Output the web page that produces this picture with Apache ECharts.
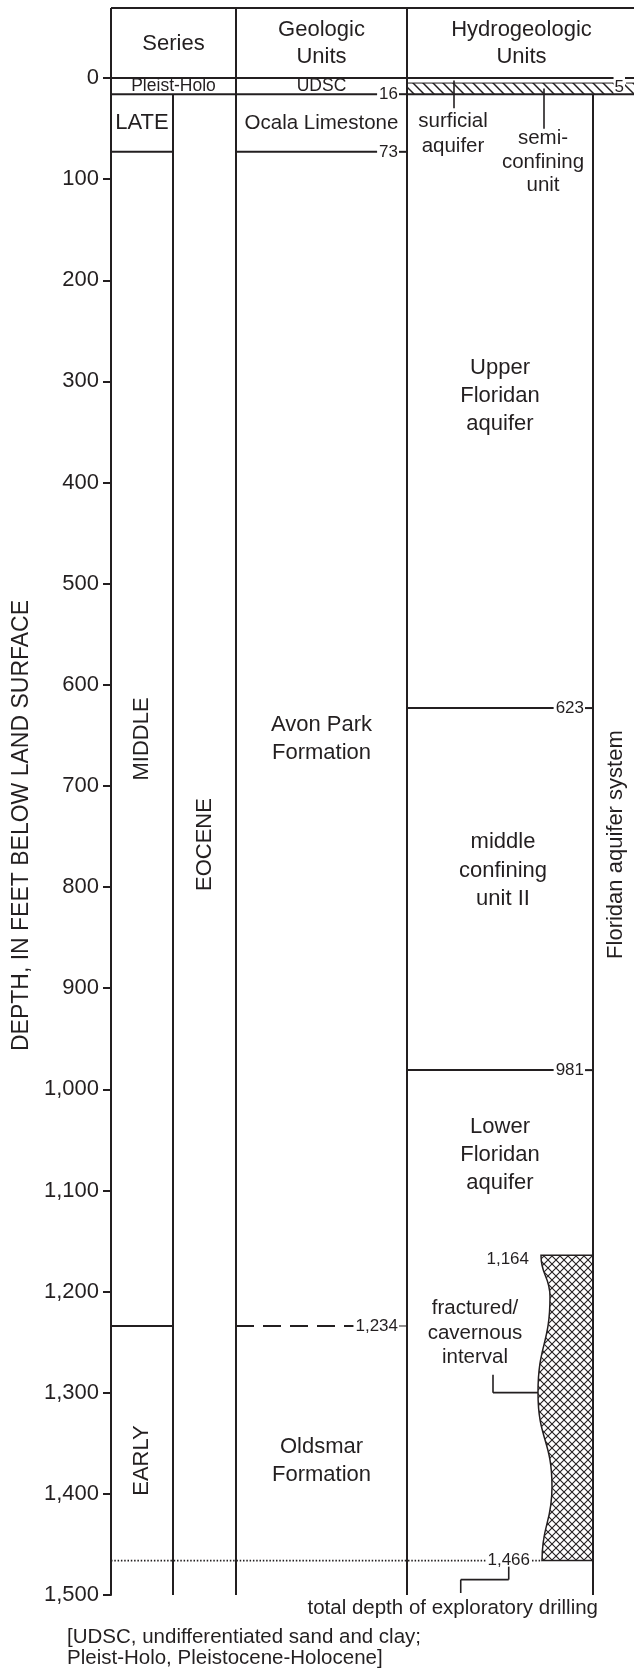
<!DOCTYPE html>
<html>
<head>
<meta charset="utf-8">
<title>Geologic and hydrogeologic units</title>
<script src="https://cdn.jsdelivr.net/npm/echarts@6/dist/echarts.min.js"></script>
<style>
  html, body { margin: 0; padding: 0; background: #ffffff; }
  #chart { width: 634px; height: 1674px; }
</style>
</head>
<body>
<div id="chart"></div>
<script>
// ---------------- data (depths in feet below land surface) ----------------
const depthTicks = [0, 100, 200, 300, 400, 500, 600, 700, 800, 900, 1000, 1100, 1200, 1300, 1400, 1500];
const maxDepth = 1500;

const seriesNames = ['Pleist-Holo', 'LATE', 'MIDDLE', 'EARLY'];
const seriesTops = [0, 16, 73, 1234];
const seriesBottoms = [16, 73, 1234, 1500];
const epochName = 'EOCENE';
const epochTop = 16;

const geoNames = ['UDSC', 'Ocala Limestone', 'Avon Park\nFormation', 'Oldsmar\nFormation'];
const geoTops = [0, 16, 73, 1234];
const geoBottoms = [16, 73, 1234, 1500];

const hydroNames = ['surficial\naquifer', 'semi-\nconfining\nunit', 'Upper\nFloridan\naquifer',
                    'middle\nconfining\nunit II', 'Lower\nFloridan\naquifer'];
const hydroTops = [0, 5, 16, 623, 981];
const hydroBottoms = [5, 16, 623, 981, 1466];

const systemName = 'Floridan aquifer system';
const systemTop = 16;

const fracturedName = 'fractured/\ncavernous\ninterval';
const fracturedTop = 1164;
const fracturedBottom = 1466;

const totalDepth = 1466;
const totalDepthText = 'total depth of exploratory drilling';

const headerSeries = 'Series';
const headerGeo = 'Geologic\nUnits';
const headerHydro = 'Hydrogeologic\nUnits';
const axisTitle = 'DEPTH, IN FEET BELOW LAND SURFACE';
const footnote = '[UDSC, undifferentiated sand and clay;\nPleist-Holo, Pleistocene-Holocene]';

// ---------------- layout and style ----------------
const INK = '#231f20';
const FONT = '"Liberation Sans", Arial, Helvetica, sans-serif';
const BIG = 22, MID = 20.5, SMALL = 17, THIN_ROW = 17.5;
// column edges in page pixels; the hidden x axis runs 1:1 with the page
const COL = { axis: 111, age: 173, series: 236, geo: 407, sys: 593, end: 634 };
const HEADER_H = 70;
const SERIES_ROTATED = [false, false, true, true];
const GEO_CONTACT_DASH = { 1234: [18, 9] };
// hydro label placement: either a depth for the block centre, or an offset below the 16-ft contact
const HYDRO_LABELS = [
  { x: 453, dy: 40, lh: 25, size: MID },
  { x: 543, dy: 68, lh: 23.5, size: MID },
  { x: 500, at: 314, lh: 28, size: BIG },
  { x: 503, at: 784, lh: 28.5, size: BIG },
  { x: 500, at: 1065, lh: 28, size: BIG }
];
// wavy edge of the fractured interval: [fraction of interval, inset from system line in px]
const FRACTURE_EDGE = [[0, 52], [0.136, 43], [0.45, 55], [0.758, 41], [1, 51]];
const FRACTURE_LABEL = { x: 475, at: 1241, lh: 24.5 };

const fmt = v => v.toLocaleString('en-US');
const ctx2d = document.createElement('canvas').getContext('2d');
function measure(s, size) { ctx2d.font = size + 'px ' + FONT; return ctx2d.measureText(s).width; }

function makePattern(size, draw) {
  const c = document.createElement('canvas');
  c.width = c.height = size;
  const g = c.getContext('2d');
  g.strokeStyle = INK;
  draw(g, size);
  return c;
}
// backslash hatch for the semi-confining unit
const bandPattern = makePattern(10, (g, s) => {
  g.lineWidth = 1.5;
  g.beginPath();
  g.moveTo(-2, -2); g.lineTo(s + 2, s + 2);
  g.moveTo(s - 2, -2); g.lineTo(s + 2, 2);
  g.moveTo(-2, s - 2); g.lineTo(2, s + 2);
  g.stroke();
});
// cross hatch for the fractured/cavernous interval
const crossPattern = makePattern(8, (g, s) => {
  g.lineWidth = 1.1;
  g.beginPath();
  g.moveTo(-1, -1); g.lineTo(s + 1, s + 1);
  g.moveTo(s + 1, -1); g.lineTo(-1, s + 1);
  g.stroke();
});

function line(x1, y1, x2, y2, w, dash) {
  return { type: 'line', shape: { x1, y1, x2, y2 },
           style: { stroke: INK, lineWidth: w == null ? 2 : w, lineDash: dash || null } };
}
function text(x, y, s, size, opt) {
  opt = opt || {};
  return {
    type: 'text', x, y, rotation: opt.rotate ? Math.PI / 2 : 0,
    style: Object.assign({
      text: s, x: 0, y: 0, fill: INK, font: size + 'px ' + FONT,
      align: opt.align || 'center', verticalAlign: 'middle',
      lineHeight: opt.lineHeight || Math.round(size * 1.25)
    }, opt.style || {})
  };
}
// horizontal contact with its depth written at the right end of the column
function labelledContact(xL, xR, y, value, dash, w) {
  const s = fmt(value);
  const tw = measure(s, SMALL);
  const tx = xR - 9;
  return [
    line(xL, y, tx - tw - 2, y, w, dash),
    text(tx, y, s, SMALL, { align: 'right' }),
    line(xR - 8, y, xR, y, dash ? 1 : w)
  ];
}
const Y = (api, d) => api.coord([COL.axis, d])[1];

// ---------------- render functions ----------------
function renderFrame(params, api) {
  const y0 = Y(api, 0), yB = Y(api, maxDepth), yT = y0 - HEADER_H;
  const yEpoch = Y(api, epochTop), ySys = Y(api, systemTop);
  const hy = (yT + y0) / 2 + 0.5;
  return { type: 'group', children: [
    line(COL.axis, yT, COL.end, yT),
    line(COL.axis, y0, COL.end, y0),
    line(COL.axis, yT, COL.axis, y0),
    line(COL.series, yT, COL.series, yB),
    line(COL.geo, yT, COL.geo, yB),
    line(COL.age, yEpoch, COL.age, yB),
    line(COL.sys, ySys, COL.sys, yB),
    text((COL.axis + COL.series) / 2, hy, headerSeries, BIG, { lineHeight: 27 }),
    text((COL.series + COL.geo) / 2, hy, headerGeo, BIG, { lineHeight: 27 }),
    text((COL.geo + COL.end) / 2 + 1, hy, headerHydro, BIG, { lineHeight: 27 }),
    text((COL.age + COL.series) / 2, (yEpoch + yB) / 2, epochName, BIG, { rotate: true }),
    text(616, (ySys + yB) / 2, systemName, BIG, { rotate: true })
  ] };
}

function renderSeriesCol(params, api) {
  const i = params.dataIndex;
  const top = api.value(0), bot = api.value(1);
  const yt = Y(api, top), yb = Y(api, bot);
  const xR = i === 0 ? COL.series : COL.age;
  const c = [];
  if (bot < maxDepth) c.push(line(COL.axis, yb, xR, yb));
  c.push(text((COL.axis + xR) / 2, (yt + yb) / 2 + (i === 0 ? 0.5 : 0), seriesNames[i], i === 0 ? THIN_ROW : BIG,
              { rotate: SERIES_ROTATED[i] }));
  return { type: 'group', children: c };
}

function renderGeo(params, api) {
  const i = params.dataIndex;
  const top = api.value(0), bot = api.value(1);
  const yt = Y(api, top), yb = Y(api, bot);
  const size = i === 0 ? THIN_ROW : (i === 1 ? MID : BIG);
  const c = [text((COL.series + COL.geo) / 2, (yt + yb) / 2 + (i === 0 ? 0.5 : 0), geoNames[i], size, { lineHeight: 28 })];
  if (bot < maxDepth) {
    c.push.apply(c, labelledContact(COL.series, COL.geo, yb, bot, GEO_CONTACT_DASH[bot], 2));
  }
  return { type: 'group', children: c };
}

function renderHydro(params, api) {
  const i = params.dataIndex;
  const top = api.value(0), bot = api.value(1);
  const yt = Y(api, top), yb = Y(api, bot);
  const lab = HYDRO_LABELS[i];
  const nLines = hydroNames[i].split('\n').length;
  const cy = lab.at != null ? Y(api, lab.at) : Y(api, hydroBottoms[1]) + lab.dy;
  const firstLine = cy - (nLines - 1) * lab.lh / 2;
  const c = [];
  if (i === 1) {
    // semi-confining band: hatch, thin top contact with its depth, heavy base
    c.push({ type: 'rect', shape: { x: COL.geo, y: yt, width: COL.end - COL.geo, height: yb - yt },
             style: { fill: { image: bandPattern, repeat: 'repeat' } } });
    const s = fmt(top), tw = measure(s, SMALL), tx = COL.end - 9;
    c.push(line(COL.geo, yt, tx - tw - 2, yt, 1));
    c.push(line(COL.end - 8, yt, COL.end, yt, 1));
    c.push(text(tx, yt + 4, s, SMALL, { align: 'right',
      style: { backgroundColor: '#ffffff', padding: [0, 1, 0, 1] } }));
    c.push(line(COL.geo, yb, COL.end, yb, 2));
  }
  if (i < 2) {
    // leader from the unit down to its label
    c.push(line(lab.x + 1, (yt + yb) / 2, lab.x + 1, firstLine - (i === 0 ? 13.5 : 10), 1.6));
  }
  c.push(text(lab.x, cy, hydroNames[i], lab.size, { lineHeight: lab.lh }));
  if (i === 2 || i === 3) {
    c.push.apply(c, labelledContact(COL.geo, COL.sys, yb, bot, null, 2));
  }
  return { type: 'group', children: c };
}

function renderFracture(params, api) {
  const yt = Y(api, api.value(0)), yb = Y(api, api.value(1));
  const pts = FRACTURE_EDGE.map(([f, inset]) => [COL.sys - inset, yt + f * (yb - yt)]);
  let d = 'M' + pts[0][0] + ' ' + pts[0][1];
  for (let k = 1; k < pts.length; k++) {
    const [x0, y0] = pts[k - 1], [x1, y1] = pts[k];
    const h = (y1 - y0) / 2;
    d += ' C' + x0 + ' ' + (y0 + h) + ' ' + x1 + ' ' + (y1 - h) + ' ' + x1 + ' ' + y1;
  }
  d += ' L' + COL.sys + ' ' + yb + ' L' + COL.sys + ' ' + yt + ' Z';
  const lead = pts[2];
  const s = fmt(api.value(0));
  return { type: 'group', children: [
    { type: 'path', shape: { pathData: d },
      style: { fill: { image: crossPattern, repeat: 'repeat' }, stroke: INK, lineWidth: 1.5 } },
    text(pts[0][0] - 12, yt + 4, s, SMALL, { align: 'right' }),
    text(FRACTURE_LABEL.x, Y(api, FRACTURE_LABEL.at), fracturedName, MID, { lineHeight: FRACTURE_LABEL.lh }),
    line(493, lead[1] - 18, 493, lead[1], 1.6),
    line(493, lead[1], lead[0], lead[1], 1.6)
  ] };
}

function renderTotalDepth(params, api) {
  const y = Y(api, api.value(0)), yB = Y(api, maxDepth);
  const xw = COL.sys - FRACTURE_EDGE[FRACTURE_EDGE.length - 1][1];
  const s = fmt(api.value(0)), tw = measure(s, SMALL);
  const xr = xw - 12, xl = xr - tw, cx = (xl + xr) / 2;
  const dots = [1.5, 1.8];
  return { type: 'group', children: [
    line(COL.axis, y, xl - 2, y, 1.6, dots),
    text(xr, y, s, SMALL, { align: 'right' }),
    line(xr + 2, y, xw, y, 1.6, dots),
    line(cx, y + 6, cx, y + 19, 1.6),
    line(cx, y + 19, cx - 48, y + 19, 1.6),
    line(cx - 48, y + 19, cx - 48, yB - 2, 1.6),
    text(cx - 56, yB + 13, totalDepthText, MID)
  ] };
}

const intervals = (tops, bottoms, names) => tops.map((t, i) => ({ name: names[i].replace(/\n/g, ' '), value: [t, bottoms[i]] }));
const customBase = { type: 'custom', coordinateSystem: 'cartesian2d', clip: false, silent: true,
                     dimensions: ['top', 'bottom'], encode: { y: ['top', 'bottom'] } };

const chart = echarts.init(document.getElementById('chart'));
chart.setOption({
  animation: false,
  backgroundColor: '#ffffff',
  grid: { left: COL.axis, right: 0, top: 78, bottom: 79 },
  xAxis: { type: 'value', min: COL.axis, max: COL.end, show: false },
  yAxis: {
    type: 'value', inverse: true, min: 0, max: maxDepth, interval: 100,
    name: axisTitle, nameLocation: 'middle', nameRotate: 90, nameGap: 76,
    nameTextStyle: { color: INK, fontSize: 23, fontFamily: FONT, padding: [0, 0, 0, 22] },
    axisLine: { show: true, lineStyle: { color: INK, width: 2 } },
    axisTick: { show: true, length: 8, lineStyle: { color: INK, width: 2 }, customValues: depthTicks },
    axisLabel: { color: INK, fontSize: BIG, fontFamily: FONT, margin: 12,
                 customValues: depthTicks, formatter: v => fmt(v) },
    splitLine: { show: false }
  },
  graphic: [{
    type: 'text', left: 67, top: 1627,
    style: { text: footnote, fill: INK, font: MID + 'px ' + FONT, lineHeight: 21 }
  }],
  series: [
    Object.assign({}, customBase, { name: 'frame', data: [{ value: [0, maxDepth] }], renderItem: renderFrame }),
    Object.assign({}, customBase, { name: 'Series', data: intervals(seriesTops, seriesBottoms, seriesNames), renderItem: renderSeriesCol }),
    Object.assign({}, customBase, { name: 'Geologic Units', data: intervals(geoTops, geoBottoms, geoNames), renderItem: renderGeo }),
    Object.assign({}, customBase, { name: 'Hydrogeologic Units', data: intervals(hydroTops, hydroBottoms, hydroNames), renderItem: renderHydro }),
    Object.assign({}, customBase, { name: fracturedName.replace(/\n/g, ' '), data: [{ value: [fracturedTop, fracturedBottom] }], renderItem: renderFracture }),
    Object.assign({}, customBase, { name: 'total depth', dimensions: ['depth'], encode: { y: ['depth'] }, data: [{ value: [totalDepth] }], renderItem: renderTotalDepth })
  ]
});
</script>
</body>
</html>
